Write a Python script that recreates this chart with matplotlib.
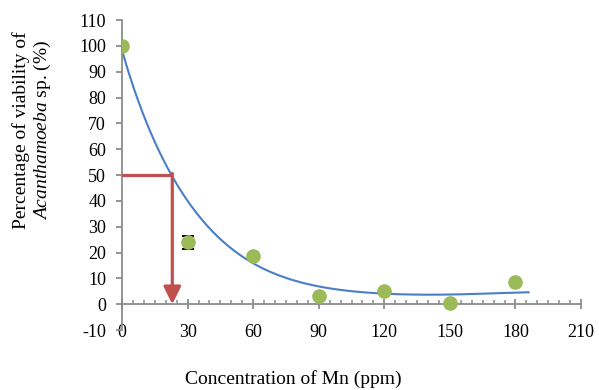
import matplotlib.pyplot as plt
import numpy as np

# measured points
conc = [0, 30, 60, 90, 120, 150, 180]
viability = [100, 23.9, 18.8, 3.3, 5.1, 0.4, 8.4]
viability_err = [0.4, 2.5, 0.6, 0.4, 0.5, 0.4, 0.5]

# trendline
trend_x = [0, 6, 11.3, 16.6, 22.8, 26.6, 60, 90.7, 120.5, 148.7, 186]
trend_y = [100, 80.3, 69.6, 59.7, 50, 45, 15.8, 6.7, 4.1, 3.7, 4.6]

# IC50 guide
ic50_x = 23
ic50_y = 50

x_ticks = [0, 30, 60, 90, 120, 150, 180, 210]
y_ticks = list(range(-10, 111, 10))

GREEN = "#9BBB59"
BLUE = "#4A7EC7"
RED = "#C0504D"
GRAY = "#8C8C8C"

plt.rcParams.update({
    "font.family": ["Liberation Serif", "DejaVu Serif"],
    "font.size": 13,
    "axes.unicode_minus": False,
    "mathtext.fontset": "custom",
    "mathtext.it": "Liberation Serif:italic",
    "mathtext.rm": "Liberation Serif",
})

fig = plt.figure(figsize=(5.99, 3.90), dpi=100)
ax = fig.add_axes([0.2037, 0.1538, 0.7663, 0.7949])

coef = np.polyfit(trend_x, np.log(trend_y), 5)
xs = np.linspace(trend_x[0], trend_x[-1], 300)
ax.plot(xs, np.exp(np.polyval(coef, xs)), color=BLUE, lw=1.5, zorder=2)

ax.errorbar(conc, viability, yerr=viability_err, fmt="none", ecolor="black",
            elinewidth=1.2, capsize=4, capthick=1.4, zorder=3)
ax.plot(conc, viability, "o", color=GREEN, markersize=9.5, zorder=4)

ax.plot([-1, ic50_x], [ic50_y, ic50_y], color=RED, lw=2.3,
        solid_joinstyle="miter", solid_capstyle="butt", zorder=5)
ax.annotate("", xy=(ic50_x, 0), xytext=(ic50_x, ic50_y + 0.6),
            arrowprops=dict(arrowstyle="-|>,head_length=0.7,head_width=0.35",
                            mutation_scale=15, color=RED, lw=2.3,
                            shrinkA=0, shrinkB=0), zorder=5)

ax.set_xlim(0, 210)
ax.set_ylim(-10, 110)
ax.set_xticks(x_ticks)
ax.set_xticks(np.arange(0, 211, 5), minor=True)
ax.set_yticks(y_ticks)

for side in ("top", "right"):
    ax.spines[side].set_visible(False)
ax.spines["bottom"].set_position(("data", 0))
for side in ("left", "bottom"):
    ax.spines[side].set_color(GRAY)
    ax.spines[side].set_linewidth(1.3)

ax.tick_params(axis="y", which="major", direction="out", length=4.5,
               width=1.3, color=GRAY, pad=7)
ax.tick_params(axis="x", which="major", direction="inout", length=7,
               width=1.3, color=GRAY, pad=11)
ax.tick_params(axis="x", which="minor", direction="in", length=3,
               width=1.1, color=GRAY)

fig.text(0.054, 0.667, "Percentage of viability of\n$\\mathit{Acanthamoeba}$ sp. (%)",
         rotation=90, ha="center", va="center", fontsize=14,
         linespacing=1.15, multialignment="center")
fig.text(0.49, 0.028, "Concentration of Mn (ppm)", ha="center", va="center",
         fontsize=14)

fig.savefig("out.png", dpi=100)
